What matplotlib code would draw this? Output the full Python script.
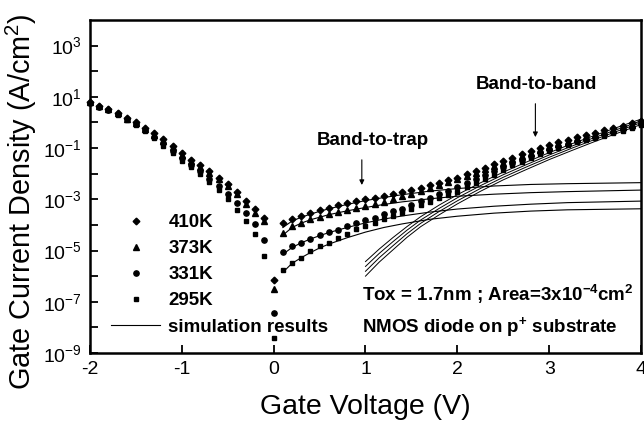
import numpy as np
import matplotlib
matplotlib.use("Agg")
import matplotlib.pyplot as plt
from matplotlib.lines import Line2D

plt.rcParams.update({
    'font.family': ['Liberation Sans', 'DejaVu Sans'],
    'mathtext.fontset': 'custom',
    'mathtext.rm': 'Liberation Sans',
    'mathtext.bf': 'Liberation Sans:bold',
    'mathtext.default': 'regular',
    'axes.unicode_minus': False,
})

# ── measured data: gate voltage (V) and log10 of gate current density (A/cm^2) ──
v_meas = [-2.0, -1.9, -1.8, -1.7, -1.6, -1.5, -1.4, -1.3, -1.2, -1.1, -1.0,
          -0.9, -0.8, -0.7, -0.6, -0.5, -0.4, -0.3, -0.2, -0.1, 0.0,
          0.1, 0.2, 0.3, 0.4, 0.5, 0.6, 0.7, 0.8, 0.9, 1.0,
          1.1, 1.2, 1.3, 1.4, 1.5, 1.6, 1.7, 1.8, 1.9, 2.0,
          2.1, 2.2, 2.3, 2.4, 2.5, 2.6, 2.7, 2.8, 2.9, 3.0,
          3.1, 3.2, 3.3, 3.4, 3.5, 3.6, 3.7, 3.8, 3.9, 4.0]

logj_410 = [0.80, 0.66, 0.53, 0.37, 0.18, 0.00, -0.20, -0.42, -0.66, -0.90, -1.20,
            -1.45, -1.68, -1.90, -2.15, -2.41, -2.72, -3.05, -3.38, -3.72, -6.14,
            -3.91, -3.76, -3.65, -3.52, -3.43, -3.33, -3.24, -3.16, -3.07, -3.00,
            -2.93, -2.87, -2.80, -2.73, -2.64, -2.55, -2.46, -2.36, -2.26, -2.16,
            -2.02, -1.89, -1.76, -1.63, -1.49, -1.37, -1.25, -1.13, -1.00, -0.88,
            -0.78, -0.68, -0.58, -0.49, -0.40, -0.31, -0.22, -0.13, -0.04, 0.06]
logj_373 = [0.78, 0.64, 0.51, 0.35, 0.15, -0.03, -0.24, -0.47, -0.71, -0.96, -1.26,
            -1.50, -1.74, -1.97, -2.22, -2.48, -2.80, -3.18, -3.52, -3.85, -6.50,
            -4.31, -4.05, -3.91, -3.78, -3.68, -3.59, -3.48, -3.42, -3.33, -3.26,
            -3.20, -3.11, -3.00, -2.89, -2.79, -2.68, -2.57, -2.45, -2.33, -2.22,
            -2.09, -1.96, -1.83, -1.70, -1.57, -1.44, -1.32, -1.20, -1.08, -0.95,
            -0.85, -0.75, -0.65, -0.56, -0.47, -0.38, -0.28, -0.19, -0.10, 0.01]
logj_331 = [0.76, 0.62, 0.49, 0.32, 0.12, -0.06, -0.30, -0.56, -0.82, -1.10, -1.40,
            -1.65, -1.90, -2.20, -2.48, -2.80, -3.13, -3.55, -3.98, -4.57, -7.43,
            -5.07, -4.83, -4.70, -4.54, -4.41, -4.28, -4.18, -4.05, -3.91, -3.81,
            -3.72, -3.59, -3.46, -3.37, -3.22, -3.08, -2.94, -2.80, -2.66, -2.52,
            -2.36, -2.20, -2.05, -1.90, -1.74, -1.59, -1.45, -1.31, -1.17, -1.04,
            -0.93, -0.83, -0.73, -0.64, -0.55, -0.46, -0.36, -0.27, -0.18, -0.07]
logj_295 = [0.75, 0.60, 0.47, 0.30, 0.10, -0.08, -0.33, -0.62, -0.90, -1.18, -1.50,
            -1.72, -2.00, -2.33, -2.64, -2.97, -3.43, -3.85, -4.37, -5.22, -8.42,
            -5.77, -5.48, -5.29, -5.03, -4.83, -4.70, -4.50, -4.37, -4.15, -4.05,
            -3.91, -3.78, -3.65, -3.52, -3.36, -3.24, -3.10, -2.96, -2.83, -2.70,
            -2.53, -2.37, -2.21, -2.05, -1.85, -1.68, -1.53, -1.39, -1.25, -1.10,
            -0.99, -0.88, -0.78, -0.69, -0.60, -0.51, -0.41, -0.32, -0.22, -0.11]

# ── simulation: band-to-trap component (one curve per temperature) ──
v_btt = [0.1, 0.2, 0.3, 0.4, 0.5, 0.6, 0.8, 1.0, 1.2, 1.4, 1.7, 2.0, 2.4, 2.8, 3.2, 3.6, 4.0]
btt_410 = [-4.10, -3.85, -3.70, -3.58, -3.47, -3.37, -3.20, -3.05, -2.93, -2.82, -2.68, -2.58, -2.48, -2.42, -2.39, -2.37, -2.35]
btt_373 = [-4.40, -4.10, -3.93, -3.80, -3.70, -3.60, -3.45, -3.32, -3.20, -3.10, -2.98, -2.88, -2.80, -2.74, -2.70, -2.67, -2.64]
btt_331 = [-5.15, -4.88, -4.70, -4.55, -4.42, -4.30, -4.10, -3.92, -3.77, -3.65, -3.50, -3.38, -3.27, -3.19, -3.13, -3.10, -3.07]
btt_295 = [-5.85, -5.50, -5.28, -5.08, -4.90, -4.75, -4.50, -4.28, -4.10, -3.96, -3.78, -3.66, -3.54, -3.46, -3.41, -3.39, -3.37]

# ── simulation: band-to-band component ──
v_btb = [1.0, 1.15, 1.3, 1.45, 1.6, 1.8, 2.0, 2.25, 2.5, 2.75, 3.0, 3.25, 3.5, 3.75, 4.0]
btb_1 = [-5.43, -4.94, -4.49, -4.07, -3.68, -3.23, -2.82, -2.36, -1.94, -1.55, -1.18, -0.83, -0.50, -0.18, 0.13]
btb_2 = [-5.62, -5.11, -4.65, -4.21, -3.81, -3.36, -2.94, -2.47, -2.04, -1.65, -1.27, -0.92, -0.58, -0.26, 0.06]
btb_3 = [-5.81, -5.28, -4.81, -4.35, -3.94, -3.48, -3.06, -2.58, -2.14, -1.74, -1.36, -1.00, -0.66, -0.33, -0.01]
btb_4 = [-6.00, -5.45, -4.97, -4.49, -4.07, -3.61, -3.18, -2.69, -2.24, -1.84, -1.45, -1.09, -0.74, -0.41, -0.08]

temps = ['410K', '373K', '331K', '295K']
markers = ['D', '^', 'o', 's']
msizes = [3.4, 4.0, 3.8, 3.5]

fig = plt.figure(figsize=(6.44, 4.26), dpi=100)
ax = fig.add_axes([90 / 644, 1 - 353 / 426, 551 / 644, 333 / 426])

for series, m, ms in zip([logj_410, logj_373, logj_331, logj_295], markers, msizes):
    ax.plot(v_meas, 10.0 ** np.array(series), linestyle='none', marker=m,
            ms=ms, color='k', mec='k', clip_on=False, zorder=3)

for series in [btt_410, btt_373, btt_331, btt_295]:
    ax.plot(v_btt, 10.0 ** np.array(series), color='k', lw=0.8)
for series in [btb_1, btb_2, btb_3, btb_4]:
    ax.plot(v_btb, 10.0 ** np.array(series), color='k', lw=0.7)

ax.set_yscale('log')
ax.set_xlim(-2, 4)
ax.set_ylim(1e-9, 1e4)
exps = list(range(-9, 4))
ax.set_yticks([10.0 ** k for k in exps])
ax.set_yticklabels([f'$10^{{{k}}}$' if k % 2 else '' for k in exps])
ax.minorticks_off()
ax.set_xticks([-2, -1, 0, 1, 2, 3, 4])
ax.tick_params(direction='in', length=6, width=1.3, labelsize=14, pad=6)
for s in ax.spines.values():
    s.set_linewidth(1.8)

ax.set_xlabel('Gate Voltage (V)', fontsize=20.5, labelpad=11)
ax.set_ylabel('Gate Current Density (A/cm$^2$)', fontsize=20.8)
ax.yaxis.set_label_coords(-0.093, 0.455)

# annotations
bold = dict(fontsize=13.5, fontweight='bold')
ax.text(1.08, 10 ** -0.69, 'Band-to-trap', ha='center', va='center', **bold)
ax.annotate('', xy=(0.96, 10 ** -2.55), xytext=(0.96, 10 ** -1.35),
            arrowprops=dict(arrowstyle='-|>', lw=0.8, color='k', mutation_scale=7))
ax.text(2.86, 10 ** 1.47, 'Band-to-band', ha='center', va='center', **bold)
ax.annotate('', xy=(2.85, 10 ** -0.68), xytext=(2.85, 10 ** 0.84),
            arrowprops=dict(arrowstyle='-|>', lw=0.8, color='k', mutation_scale=7))
ax.text(0.96, 10 ** -6.7, r'Tox = 1.7nm ; Area=3x10$^{\mathbf{-4}}$cm$^{\mathbf{2}}$',
        ha='left', va='center', **bold)
ax.text(0.96, 10 ** -7.97, r'NMOS diode on p$^{\mathbf{+}}$ substrate',
        ha='left', va='center', **bold)

handles = [Line2D([], [], linestyle='none', marker=m, ms=ms, color='k') for m, ms in zip(markers, msizes)]
handles.append(Line2D([], [], color='k', lw=0.8))
labels = temps + ['simulation results']
leg = ax.legend(handles, labels, loc='upper left', bbox_to_anchor=(0.025, 0.44),
                frameon=False, prop={'size': 13.5, 'weight': 'bold'},
                handlelength=2.6, handletextpad=0.45, labelspacing=0.48, borderaxespad=0)

fig.savefig('out.png', dpi=100)
